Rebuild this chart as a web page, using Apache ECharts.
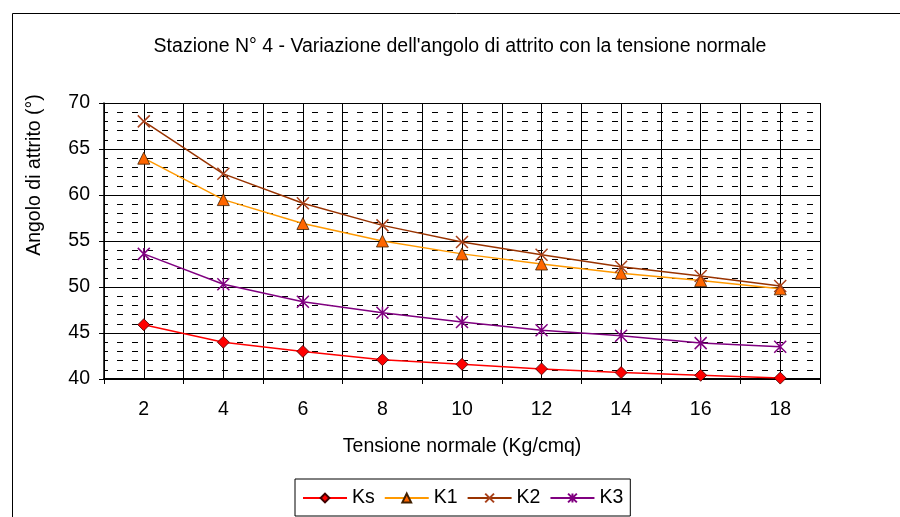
<!DOCTYPE html>
<html>
<head>
<meta charset="utf-8">
<script src="https://cdn.jsdelivr.net/npm/echarts@6/dist/echarts.min.js"></script>
<style>html,body{margin:0;padding:0;background:#fff}#c{width:900px;height:517px}</style>
</head>
<body>
<div id="c"></div>
<script>
const categories = ['2','4','6','8','10','12','14','16','18'];
const ks = [45.9, 44.0, 43.0, 42.1, 41.6, 41.1, 40.7, 40.4, 40.1];
const k1 = [64.0, 59.5, 56.9, 55.0, 53.6, 52.5, 51.5, 50.7, 49.8];
const k2 = [68.0, 62.3, 59.1, 56.7, 54.9, 53.5, 52.2, 51.2, 50.1];
const k3 = [53.6, 50.3, 48.4, 47.2, 46.2, 45.3, 44.7, 43.9, 43.5];
const yMin = 40, yMax = 70, yStep = 5;

const FONT = '"Liberation Sans", Arial, sans-serif';
const FS = 19.5;
const chart = echarts.init(document.getElementById('c'), null, {renderer: 'canvas'});
const xPath = 'path://M0 0 L10 10 M10 0 L0 10';
const starPath = 'path://M5 0 L5 10 M0 0 L10 10 M10 0 L0 10';

chart.setOption({
  animation: false,
  backgroundColor: '#fff',
  textStyle: {fontFamily: FONT},
  title: {
    text: "Stazione N° 4 - Variazione dell'angolo di attrito con la tensione normale",
    left: 455, top: 32, textAlign: 'center',
    textStyle: {fontFamily: FONT, fontSize: FS, fontWeight: 'normal', color: '#000'}
  },
  graphic: [
    {type: 'rect', shape: {x: 12.5, y: 13.5, width: 900, height: 520}, style: {fill: 'none', stroke: '#000', lineWidth: 1}, z: -1},
    {type: 'text', x: 35, y: 175, rotation: Math.PI/2,
     style: {text: 'Angolo di attrito (°)', fontFamily: FONT, fontSize: FS, fill: '#000', align: 'center', verticalAlign: 'middle'}}
  ],
  legend: {
    bottom: 1, left: 295,
    data: ['Ks','K1','K2','K3'],
    itemWidth: 44, itemHeight: 11, itemGap: 9,
    padding: [9, 7, 8, 7],
    borderColor: '#000', borderWidth: 1,
    textStyle: {fontFamily: FONT, fontSize: FS, color: '#000'}
  },
  grid: {left: 104, top: 103, right: 80, bottom: 138, containLabel: false},
  xAxis: [
    {
      type: 'category', data: categories, boundaryGap: true,
      name: 'Tensione normale (Kg/cmq)', nameLocation: 'middle', nameGap: 58,
      nameTextStyle: {fontFamily: FONT, fontSize: FS, color: '#000'},
      axisLine: {lineStyle: {color: '#000', width: 2}},
      axisTick: {show: true, length: 5, lineStyle: {color: '#000'}},
      axisLabel: {fontFamily: FONT, fontSize: FS, color: '#000', margin: 21},
      splitLine: {show: false}
    },
    {
      type: 'value', min: 1, max: 19, interval: 1, position: 'bottom',
      axisLine: {show: false}, axisTick: {show: false}, axisLabel: {show: false},
      splitLine: {show: true, lineStyle: {color: '#000', width: 1}}
    }
  ],
  yAxis: {
    type: 'value', min: yMin, max: yMax, interval: yStep,
    axisLine: {show: true, lineStyle: {color: '#000', width: 1.5}},
    axisTick: {show: true, length: 5, lineStyle: {color: '#000'}},
    axisLabel: {fontFamily: FONT, fontSize: FS, color: '#000', margin: 14},
    splitLine: {show: true, lineStyle: {color: '#000', width: 1}},
    minorTick: {show: false, splitNumber: 5},
    minorSplitLine: {show: true, lineStyle: {color: '#000', width: 1, type: [6, 9], dashOffset: 2}}
  },
  series: [
    {name: 'Ks', type: 'line', data: ks, xAxisIndex: 0, symbol: 'diamond', symbolSize: 12,
     lineStyle: {color: '#FF0000', width: 1.5},
     itemStyle: {color: '#FF0000', borderColor: '#400000', borderWidth: 0.8}, z: 5},
    {name: 'K1', type: 'line', data: k1, xAxisIndex: 0, symbol: 'triangle', symbolSize: 12,
     lineStyle: {color: '#FF9900', width: 1.5},
     itemStyle: {color: '#FF6600', borderColor: '#402000', borderWidth: 0.8}, z: 5},
    {name: 'K2', type: 'line', data: k2, xAxisIndex: 0, symbol: xPath, symbolSize: 12,
     lineStyle: {color: '#993300', width: 1.5},
     itemStyle: {color: '#993300', borderColor: '#A8401A', borderWidth: 1.5}, z: 5},
    {name: 'K3', type: 'line', data: k3, xAxisIndex: 0, symbol: starPath, symbolSize: 12,
     lineStyle: {color: '#800080', width: 1.5},
     itemStyle: {color: '#800080', borderColor: '#800080', borderWidth: 1.5}, z: 5}
  ]
});
</script>
</body>
</html>
